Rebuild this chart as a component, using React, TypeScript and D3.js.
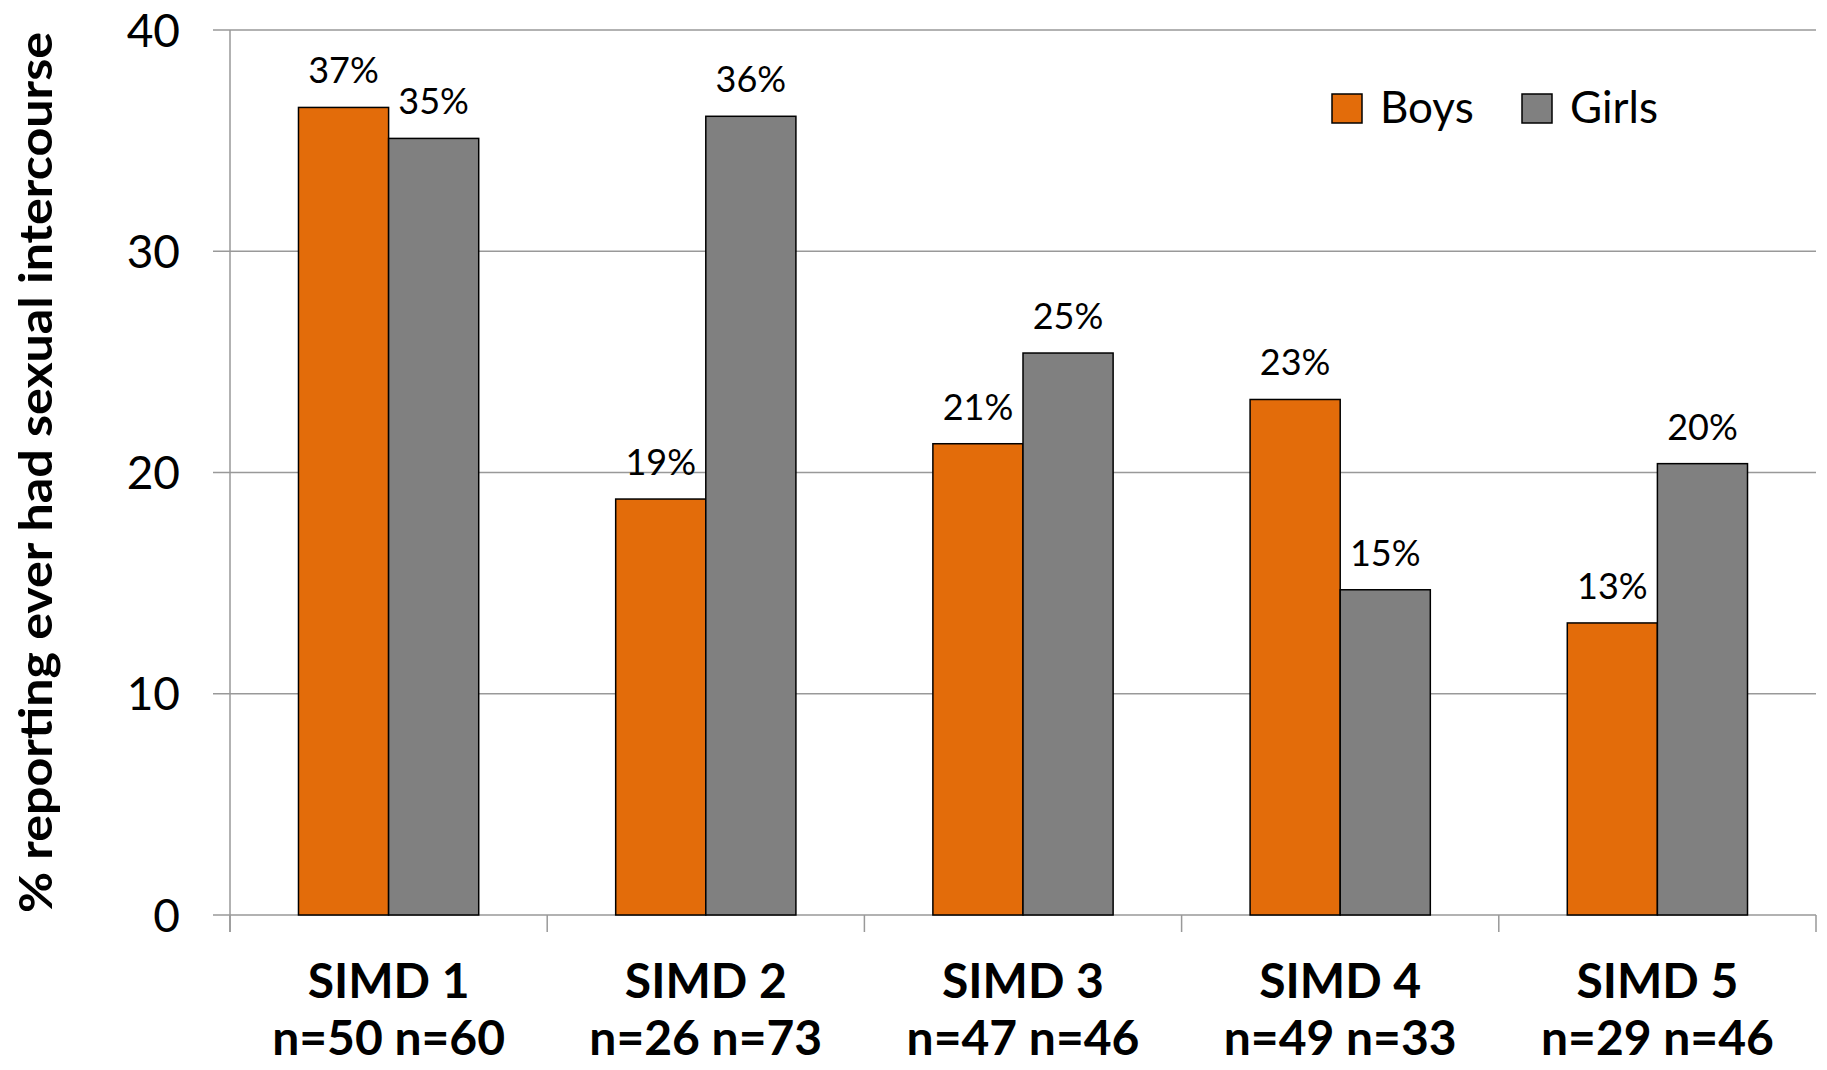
import React from "react";
import * as d3 from "d3";

const categories = ["SIMD 1", "SIMD 2", "SIMD 3", "SIMD 4", "SIMD 5"];
const sampleLabels = ["n=50 n=60", "n=26 n=73", "n=47 n=46", "n=49 n=33", "n=29 n=46"];
const series = ["Boys", "Girls"];
const boysValues = [36.5, 18.8, 21.3, 23.3, 13.2];
const girlsValues = [35.1, 36.1, 25.4, 14.7, 20.4];
const boysLabels = ["37%", "19%", "21%", "23%", "13%"];
const girlsLabels = ["35%", "36%", "25%", "15%", "20%"];
const yTicks = [0, 10, 20, 30, 40];
const yTitle = "% reporting ever had sexual intercourse";
const colors = ["#E36C0A", "#808080"];

const W = 1827;
const H = 1070;
const FONT = "Lato, 'Open Sans', sans-serif";

export default function App() {
  const left = 230;
  const right = 1816;
  const top = 30;
  const bottom = 915;

  const x = d3.scaleBand<string>().domain(categories).range([left, right]).paddingInner(0).paddingOuter(0);
  const inner = d3.scaleBand<string>().domain(series).range([0, x.bandwidth()]).paddingInner(0).paddingOuter(0.76);
  const y = d3.scaleLinear().domain([0, 40]).range([bottom, top]);

  const values = [boysValues, girlsValues];
  const labels = [boysLabels, girlsLabels];
  const gridColor = "#999999";

  const boundaries = d3.range(categories.length + 1).map((i) => left + i * x.bandwidth());

  return (
    <svg width={W} height={H} style={{ position: "absolute", left: 0, top: 0, background: "#fff" }} fontFamily={FONT}>
      <rect x={0} y={0} width={W} height={H} fill="#fff" />
      {yTicks.map((t) => (
        <g key={"g" + t}>
          <line x1={left - 17} x2={right} y1={y(t)} y2={y(t)} stroke={gridColor} strokeWidth={1.5} />
          <text x={180} y={y(t)} dy="0.36em" textAnchor="end" fontSize={46} fill="#000">
            {t}
          </text>
        </g>
      ))}
      <line x1={left} x2={left} y1={top} y2={bottom + 17} stroke={gridColor} strokeWidth={1.5} />
      {boundaries.map((bx, i) => (
        <line key={"t" + i} x1={bx} x2={bx} y1={bottom} y2={bottom + 17} stroke={gridColor} strokeWidth={1.5} />
      ))}
      {categories.map((c, ci) => (
        <g key={c}>
          {series.map((s, si) => {
            const bx = (x(c) as number) + (inner(s) as number);
            const bw = inner.bandwidth();
            const v = values[si][ci];
            return (
              <g key={s}>
                <rect x={bx} y={y(v)} width={bw} height={y(0) - y(v)} fill={colors[si]} stroke="#000" strokeWidth={1.5} />
                <text x={bx + bw / 2} y={y(v) - 24} textAnchor="middle" fontSize={36} fill="#000">
                  {labels[si][ci]}
                </text>
              </g>
            );
          })}
          <text x={(x(c) as number) + x.bandwidth() / 2} y={998} textAnchor="middle" fontSize={48} fontWeight="bold" fill="#000">
            {c}
          </text>
          <text x={(x(c) as number) + x.bandwidth() / 2} y={1055} textAnchor="middle" fontSize={48} fontWeight="bold" fill="#000">
            {sampleLabels[ci]}
          </text>
        </g>
      ))}
      <text
        transform={`translate(52, ${(32 + 913) / 2}) rotate(-90)`}
        textAnchor="middle"
        fontSize={46}
        fontWeight="bold"
        fill="#000"
        textLength={881}
        lengthAdjust="spacingAndGlyphs"
      >
        {yTitle}
      </text>
      {series.map((s, si) => {
        const lx = si === 0 ? 1332 : 1522;
        return (
          <g key={"l" + s}>
            <rect x={lx} y={94} width={30} height={29} fill={colors[si]} stroke="#000" strokeWidth={1.5} />
            <text x={lx + 48} y={123} fontSize={44} fill="#000">
              {s}
            </text>
          </g>
        );
      })}
    </svg>
  );
}
